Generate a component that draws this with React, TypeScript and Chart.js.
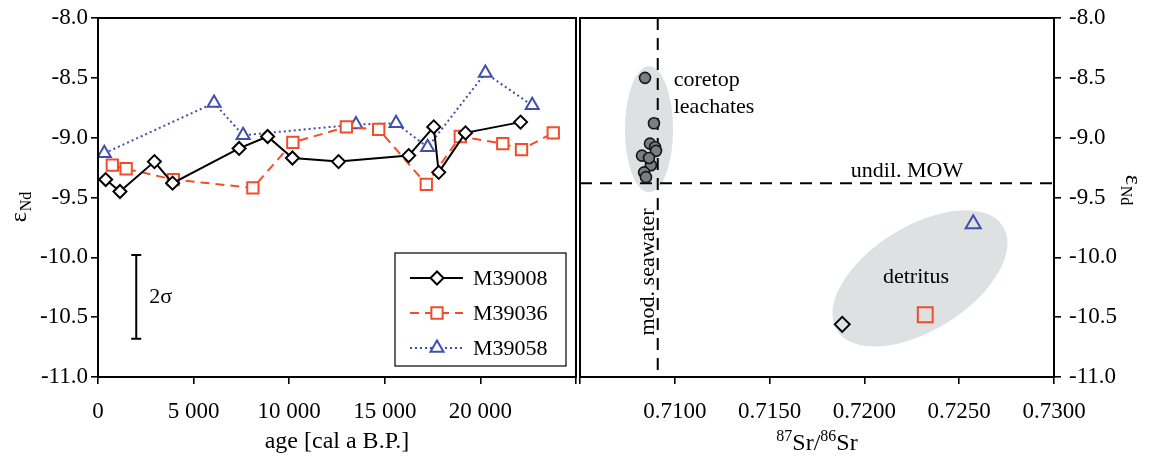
import React, { useEffect, useRef } from 'react';
import { Chart, registerables } from 'chart.js';

Chart.register(...registerables);

const FONT = "'Liberation Serif', 'Times New Roman', 'DejaVu Serif', serif";

// ---------- Left panel: eNd vs age ----------
const AGE_M39008 = [400, 1150, 2950, 3900, 7380, 8870, 10170, 12580, 16250, 17560, 17820, 19220, 22100];
const END_M39008 = [-9.35, -9.45, -9.2, -9.38, -9.09, -8.99, -9.17, -9.2, -9.15, -8.91, -9.29, -8.96, -8.87];

const AGE_M39036 = [750, 1470, 3940, 8100, 10190, 12990, 14680, 17170, 18950, 21170, 22150, 23810];
const END_M39036 = [-9.23, -9.26, -9.35, -9.42, -9.04, -8.91, -8.93, -9.39, -8.99, -9.05, -9.1, -8.96];

const AGE_M39058 = [330, 6070, 7590, 13490, 15590, 17240, 20260, 22710];
const END_M39058 = [-9.13, -8.71, -8.98, -8.89, -8.88, -9.08, -8.46, -8.73];

const AGE_TICKS = [0, 5000, 10000, 15000, 20000, 25000];
const END_TICKS = [-11, -10.5, -10, -9.5, -9, -8.5, -8];

// 2 sigma error bar (age, centre, half-range)
const ERR_AGE = 2000;
const ERR_CENTER = -10.33;
const ERR_HALF = 0.35;

// ---------- Right panel: eNd vs 87Sr/86Sr ----------
const SR_CORETOP = [0.70843, 0.7089, 0.70869, 0.70896, 0.70901, 0.70827, 0.70874, 0.70838, 0.70848, 0.70864];
const END_CORETOP = [-8.5, -8.88, -9.05, -9.08, -9.11, -9.15, -9.23, -9.29, -9.33, -9.17];

const SR_DETRITUS = [0.71883, 0.72321, 0.72574];
const END_DETRITUS = [-10.56, -10.48, -9.72];

const SR_TICKS = [0.705, 0.71, 0.715, 0.72, 0.725, 0.73];

const SR_MOD_SEAWATER = 0.7091;
const END_UNDIL_MOW = -9.38;

const CORETOP_ELLIPSE = { x: 0.70864, y: -8.93, rx: 0.00127, ry: 0.527 };
const DETRITUS_ELLIPSE = { x: 0.72293, y: -10.176, a: 98, b: 52, angle: -32 };

const BLACK = '#000000';
const RED = '#F04E2A';
const BLUE = '#3F4FAE';
const ELLIPSE_FILL = '#DEE1E2';

const SERIES = [
  { label: 'M39008', ages: AGE_M39008, vals: END_M39008, color: BLACK, style: 'rectRot', radius: 6.5, dash: [] as number[] },
  { label: 'M39036', ages: AGE_M39036, vals: END_M39036, color: RED, style: 'rect', radius: 8, dash: [9, 6] },
  { label: 'M39058', ages: AGE_M39058, vals: END_M39058, color: BLUE, style: 'triangle', radius: 7.5, dash: [2, 3] },
];

const fmtAge = (v: number) => String(v).replace(/\B(?=(\d{3})+(?!\d))/g, ' ');

function drawMarker(ctx: CanvasRenderingContext2D, style: string, x: number, y: number, r: number, color: string) {
  ctx.save();
  ctx.strokeStyle = color;
  ctx.fillStyle = 'white';
  ctx.lineWidth = 2;
  ctx.setLineDash([]);
  ctx.beginPath();
  if (style === 'rectRot') {
    ctx.moveTo(x - r, y);
    ctx.lineTo(x, y - r);
    ctx.lineTo(x + r, y);
    ctx.lineTo(x, y + r);
    ctx.closePath();
  } else if (style === 'rect') {
    const s = r * Math.SQRT1_2;
    ctx.rect(x - s, y - s, 2 * s, 2 * s);
  } else {
    const a = (2 * Math.PI) / 3;
    ctx.moveTo(x, y - r);
    ctx.lineTo(x + Math.sin(a) * r, y - Math.cos(a) * r);
    ctx.lineTo(x + Math.sin(2 * a) * r, y - Math.cos(2 * a) * r);
    ctx.closePath();
  }
  ctx.fill();
  ctx.stroke();
  ctx.restore();
}

function drawEpsNd(ctx: CanvasRenderingContext2D, cx: number, cy: number, rot: number) {
  ctx.save();
  ctx.translate(cx, cy);
  ctx.rotate(rot);
  ctx.fillStyle = BLACK;
  ctx.textBaseline = 'alphabetic';
  ctx.textAlign = 'left';
  const big = `24px ${FONT}`;
  const small = `16px ${FONT}`;
  ctx.font = big;
  const w1 = ctx.measureText('ε').width;
  ctx.font = small;
  const w2 = ctx.measureText('Nd').width;
  const total = w1 + w2 + 1;
  ctx.font = big;
  ctx.fillText('ε', -total / 2, 4);
  ctx.font = small;
  ctx.fillText('Nd', -total / 2 + w1 + 1, 9);
  ctx.restore();
}

function axisStyle(extra: any) {
  return {
    grid: { display: true, drawOnChartArea: false, drawTicks: true, tickLength: 7, color: BLACK, lineWidth: 1.6 },
    border: { display: true, color: BLACK, width: 2 },
    title: { display: false },
    ...extra,
  };
}

const leftPlugin = {
  id: 'leftDecor',
  afterDraw(chart: any) {
    const { ctx, chartArea: ca, scales } = chart;
    const xs = scales.x;
    const ys = scales.y;
    ctx.save();
    // frame
    ctx.strokeStyle = BLACK;
    ctx.lineWidth = 2;
    ctx.strokeRect(ca.left, ca.top, ca.right - ca.left, ca.bottom - ca.top);

    // 2 sigma bar
    const ex = xs.getPixelForValue(ERR_AGE);
    const ey1 = ys.getPixelForValue(ERR_CENTER + ERR_HALF);
    const ey2 = ys.getPixelForValue(ERR_CENTER - ERR_HALF);
    ctx.lineWidth = 2;
    ctx.beginPath();
    ctx.moveTo(ex, ey1);
    ctx.lineTo(ex, ey2);
    ctx.moveTo(ex - 5, ey1);
    ctx.lineTo(ex + 5, ey1);
    ctx.moveTo(ex - 5, ey2);
    ctx.lineTo(ex + 5, ey2);
    ctx.stroke();
    ctx.fillStyle = BLACK;
    ctx.font = `22px ${FONT}`;
    ctx.textAlign = 'left';
    ctx.textBaseline = 'middle';
    ctx.fillText('2σ', ex + 13, (ey1 + ey2) / 2);

    // legend
    const bx = ca.right - 181;
    const by = ca.bottom - 124;
    const bw = 171;
    const bh = 113;
    ctx.fillStyle = 'white';
    ctx.fillRect(bx, by, bw, bh);
    ctx.lineWidth = 1.2;
    ctx.strokeStyle = BLACK;
    ctx.strokeRect(bx, by, bw, bh);
    SERIES.forEach((s, i) => {
      const ly = by + 25 + i * 35;
      ctx.save();
      ctx.strokeStyle = s.color;
      ctx.lineWidth = 2;
      ctx.setLineDash(s.dash);
      ctx.beginPath();
      ctx.moveTo(bx + 15, ly);
      ctx.lineTo(bx + 68, ly);
      ctx.stroke();
      ctx.restore();
      drawMarker(ctx, s.style, bx + 42, ly, s.radius, s.color);
      ctx.fillStyle = BLACK;
      ctx.font = `22px ${FONT}`;
      ctx.textAlign = 'left';
      ctx.textBaseline = 'middle';
      ctx.fillText(s.label, bx + 78, ly + 1);
    });

    // axis titles
    ctx.font = `24px ${FONT}`;
    ctx.textAlign = 'center';
    ctx.textBaseline = 'middle';
    ctx.fillStyle = BLACK;
    ctx.fillText('age [cal a B.P.]', (ca.left + ca.right) / 2, 442);
    drawEpsNd(ctx, 22, 207, -Math.PI / 2);
    ctx.restore();
  },
};

const rightPlugin = {
  id: 'rightDecor',
  beforeDatasetsDraw(chart: any) {
    const { ctx, chartArea: ca, scales } = chart;
    const xs = scales.x;
    const ys = scales.y;
    ctx.save();
    ctx.beginPath();
    ctx.rect(ca.left, ca.top, ca.right - ca.left, ca.bottom - ca.top);
    ctx.clip();
    // coretop ellipse
    const cx = xs.getPixelForValue(CORETOP_ELLIPSE.x);
    const cy = ys.getPixelForValue(CORETOP_ELLIPSE.y);
    const rx = Math.abs(xs.getPixelForValue(CORETOP_ELLIPSE.x + CORETOP_ELLIPSE.rx) - cx);
    const ry = Math.abs(ys.getPixelForValue(CORETOP_ELLIPSE.y + CORETOP_ELLIPSE.ry) - cy);
    ctx.fillStyle = ELLIPSE_FILL;
    ctx.beginPath();
    ctx.ellipse(cx, cy, rx, ry, 0, 0, Math.PI * 2);
    ctx.fill();
    // detritus ellipse
    const dx = xs.getPixelForValue(DETRITUS_ELLIPSE.x);
    const dy = ys.getPixelForValue(DETRITUS_ELLIPSE.y);
    ctx.beginPath();
    ctx.ellipse(dx, dy, DETRITUS_ELLIPSE.a, DETRITUS_ELLIPSE.b, (DETRITUS_ELLIPSE.angle * Math.PI) / 180, 0, Math.PI * 2);
    ctx.fill();

    // dashed reference lines
    ctx.strokeStyle = BLACK;
    ctx.lineWidth = 2;
    ctx.setLineDash([12, 8]);
    const vx = xs.getPixelForValue(SR_MOD_SEAWATER);
    ctx.beginPath();
    ctx.moveTo(vx, ca.top);
    ctx.lineTo(vx, ca.bottom);
    ctx.stroke();
    const hy = ys.getPixelForValue(END_UNDIL_MOW);
    ctx.beginPath();
    ctx.moveTo(ca.left, hy);
    ctx.lineTo(ca.right, hy);
    ctx.stroke();
    ctx.setLineDash([]);

    // annotation texts
    ctx.fillStyle = BLACK;
    ctx.font = `22px ${FONT}`;
    ctx.textAlign = 'left';
    ctx.textBaseline = 'middle';
    ctx.fillText('coretop', vx + 16, 80);
    ctx.fillText('leachates', vx + 16, 107);
    ctx.textAlign = 'center';
    ctx.fillText('undil. MOW', ca.left + 327, hy - 12);
    ctx.fillText('detritus', dx - 4, dy - 1);
    ctx.save();
    ctx.translate(vx - 10, 272);
    ctx.rotate(-Math.PI / 2);
    ctx.fillText('mod. seawater', 0, 0);
    ctx.restore();
    ctx.restore();
  },
  afterDraw(chart: any) {
    const { ctx, chartArea: ca } = chart;
    ctx.save();
    ctx.strokeStyle = BLACK;
    ctx.lineWidth = 2;
    ctx.strokeRect(ca.left, ca.top, ca.right - ca.left, ca.bottom - ca.top);

    // x title 87Sr/86Sr
    const big = `24px ${FONT}`;
    const small = `16px ${FONT}`;
    const parts = [
      { t: '87', f: small, dy: -9 },
      { t: 'Sr/', f: big, dy: 0 },
      { t: '86', f: small, dy: -9 },
      { t: 'Sr', f: big, dy: 0 },
    ];
    let total = 0;
    parts.forEach((p) => {
      ctx.font = p.f;
      total += ctx.measureText(p.t).width;
    });
    let x = (ca.left + ca.right) / 2 - total / 2;
    const base = 450;
    ctx.fillStyle = BLACK;
    ctx.textAlign = 'left';
    ctx.textBaseline = 'alphabetic';
    parts.forEach((p) => {
      ctx.font = p.f;
      ctx.fillText(p.t, x, base + p.dy);
      x += ctx.measureText(p.t).width;
    });
    drawEpsNd(ctx, chart.width - 21, 190, Math.PI / 2);
    ctx.restore();
  },
};

export default function App() {
  const leftRef = useRef<HTMLCanvasElement | null>(null);
  const rightRef = useRef<HTMLCanvasElement | null>(null);

  useEffect(() => {
    Chart.defaults.font.family = FONT;
    Chart.defaults.color = BLACK;

    // x tick labels: zero padding (so no side padding is added), tall line box pushes text down
    const xTickFont = { family: FONT, size: 23, lineHeight: 2.4 };
    const yTickFont = { family: FONT, size: 23, lineHeight: 0.8 };

    const left = new Chart(leftRef.current as HTMLCanvasElement, {
      type: 'scatter',
      data: {
        datasets: SERIES.map((s) => ({
          label: s.label,
          data: s.ages.map((a, i) => ({ x: a, y: s.vals[i] })),
          showLine: true,
          borderColor: s.color,
          borderWidth: 2,
          borderDash: s.dash,
          backgroundColor: 'white',
          pointStyle: s.style as any,
          pointRadius: s.radius,
          pointBorderColor: s.color,
          pointBackgroundColor: 'white',
          pointBorderWidth: 2,
          tension: 0,
        })),
      },
      options: {
        responsive: false,
        animation: false,
        events: [],
        layout: { autoPadding: false, padding: { top: 18, right: 2, left: 0, bottom: 0 } },
        plugins: { legend: { display: false }, tooltip: { enabled: false } },
        scales: {
          x: axisStyle({
            type: 'linear',
            min: 0,
            max: 25000,
            afterBuildTicks: (sc: any) => {
              sc.ticks = AGE_TICKS.map((v) => ({ value: v }));
            },
            afterFit: (sc: any) => {
              sc.height = 82;
            },
            ticks: {
              font: xTickFont,
              padding: 0,
              maxRotation: 0,
              autoSkip: false,
              callback: (v: any) => (Number(v) === 25000 ? '' : fmtAge(Number(v))),
            },
          }),
          y: axisStyle({
            type: 'linear',
            min: -11,
            max: -8,
            afterBuildTicks: (sc: any) => {
              sc.ticks = END_TICKS.map((v) => ({ value: v }));
            },
            afterFit: (sc: any) => {
              sc.width = 98;
            },
            ticks: {
              font: yTickFont,
              padding: 3,
              callback: (v: any) => Number(v).toFixed(1),
            },
          }),
        },
      },
      plugins: [leftPlugin],
    } as any);

    const right = new Chart(rightRef.current as HTMLCanvasElement, {
      type: 'scatter',
      data: {
        datasets: [
          {
            label: 'coretop leachates',
            data: SR_CORETOP.map((v, i) => ({ x: v, y: END_CORETOP[i] })),
            pointStyle: 'circle',
            pointRadius: 5.5,
            pointBackgroundColor: '#7B7D7F',
            pointBorderColor: '#151515',
            pointBorderWidth: 1.6,
          },
          {
            label: 'M39008 detritus',
            data: [{ x: SR_DETRITUS[0], y: END_DETRITUS[0] }],
            pointStyle: 'rectRot',
            pointRadius: 7.5,
            pointBackgroundColor: 'rgba(0,0,0,0)',
            pointBorderColor: BLACK,
            pointBorderWidth: 2,
          },
          {
            label: 'M39036 detritus',
            data: [{ x: SR_DETRITUS[1], y: END_DETRITUS[1] }],
            pointStyle: 'rect',
            pointRadius: 10.5,
            pointBackgroundColor: 'rgba(0,0,0,0)',
            pointBorderColor: RED,
            pointBorderWidth: 2,
          },
          {
            label: 'M39058 detritus',
            data: [{ x: SR_DETRITUS[2], y: END_DETRITUS[2] }],
            pointStyle: 'triangle',
            pointRadius: 8.7,
            pointBackgroundColor: 'rgba(0,0,0,0)',
            pointBorderColor: BLUE,
            pointBorderWidth: 2,
          },
        ],
      },
      options: {
        responsive: false,
        animation: false,
        events: [],
        layout: { autoPadding: false, padding: { top: 18, right: 0, left: 2, bottom: 0 } },
        plugins: { legend: { display: false }, tooltip: { enabled: false } },
        scales: {
          x: axisStyle({
            type: 'linear',
            min: 0.705,
            max: 0.73,
            afterBuildTicks: (sc: any) => {
              sc.ticks = SR_TICKS.map((v) => ({ value: v }));
            },
            afterFit: (sc: any) => {
              sc.height = 82;
            },
            ticks: {
              font: xTickFont,
              padding: 0,
              maxRotation: 0,
              autoSkip: false,
              callback: (v: any) => (Math.abs(Number(v) - 0.705) < 1e-9 ? '' : Number(v).toFixed(4)),
            },
          }),
          y: axisStyle({
            type: 'linear',
            position: 'right',
            min: -11,
            max: -8,
            afterBuildTicks: (sc: any) => {
              sc.ticks = END_TICKS.map((v) => ({ value: v }));
            },
            afterFit: (sc: any) => {
              sc.width = 97;
            },
            ticks: {
              font: yTickFont,
              padding: 8,
              callback: (v: any) => Number(v).toFixed(1),
            },
          }),
        },
      },
      plugins: [rightPlugin],
    } as any);

    return () => {
      left.destroy();
      right.destroy();
    };
  }, []);

  return (
    <div style={{ position: 'fixed', left: 0, top: 0, width: 1151, height: 459, background: 'white', overflow: 'hidden' }}>
      <canvas ref={leftRef} width={578} height={459} style={{ position: 'absolute', left: 0, top: 0 }} />
      <canvas ref={rightRef} width={573} height={459} style={{ position: 'absolute', left: 578, top: 0 }} />
    </div>
  );
}
